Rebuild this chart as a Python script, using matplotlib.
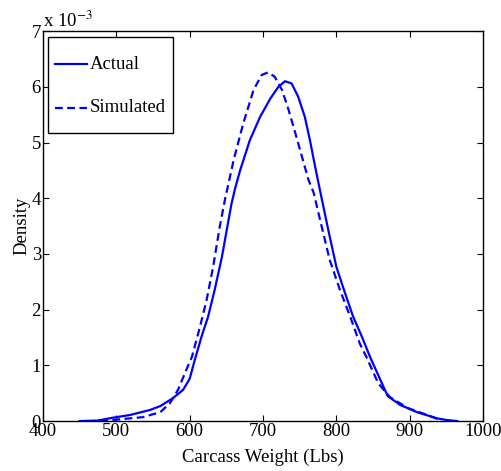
import matplotlib

matplotlib.use("Agg")
import matplotlib.pyplot as plt  # noqa: E402

# density values are in units of 1e-3
actual_x = [450, 475, 495, 519, 546, 560, 577, 591, 600, 607, 616, 625, 634,
            644, 653, 657, 662, 669, 682, 696, 710, 721, 730, 739, 748, 757,
            764, 771, 778, 789, 800, 812, 823, 835, 846, 860, 870, 887, 910,
            937, 950, 965]
actual_y = [0.0, 0.01, 0.06, 0.11, 0.20, 0.27, 0.41, 0.56, 0.76, 1.10, 1.51,
            1.87, 2.35, 2.95, 3.61, 3.90, 4.18, 4.51, 5.04, 5.46, 5.79, 6.00,
            6.10, 6.06, 5.82, 5.46, 5.04, 4.57, 4.12, 3.43, 2.77, 2.29, 1.87,
            1.51, 1.15, 0.74, 0.45, 0.29, 0.16, 0.05, 0.02, 0.0]

sim_x = [478, 495, 536, 560, 573, 584, 598, 603, 614, 623, 632, 641, 648,
         660, 673, 687, 698, 707, 716, 726, 735, 744, 753, 762, 769, 780,
         791, 805, 819, 832, 841, 857, 873, 898, 924, 941]
sim_y = [0.0, 0.02, 0.07, 0.16, 0.32, 0.56, 1.00, 1.15, 1.69, 2.17, 2.77,
         3.49, 3.97, 4.69, 5.34, 5.94, 6.21, 6.26, 6.18, 5.94, 5.58, 5.17,
         4.75, 4.33, 4.10, 3.49, 2.89, 2.35, 1.87, 1.39, 1.15, 0.68, 0.43,
         0.23, 0.11, 0.02]

x_ticks = [400, 500, 600, 700, 800, 900, 1000]
y_ticks = [0, 1, 2, 3, 4, 5, 6, 7]

plt.rcParams["font.family"] = ["Liberation Serif", "DejaVu Serif"]
plt.rcParams["mathtext.fontset"] = "stix"
FS = 13.5
DPI = 100

fig = plt.figure(figsize=(5.02, 4.71), dpi=DPI)
ax = fig.add_axes([0.0857, 0.106, 0.8765, 0.828])

ax.plot(actual_x, actual_y, color="#0000ff", lw=1.6, label="Actual")
ax.plot(sim_x, sim_y, color="#0000ff", lw=1.6, ls=(0, (3.5, 2)), label="Simulated")

ax.set_xlim(400, 1000)
ax.set_ylim(0, 7)
ax.set_xticks(x_ticks)
ax.set_yticks(y_ticks)
ax.tick_params(direction="in", top=True, right=True, length=4, width=0.8,
               labelsize=FS, pad=1.5)
for s in ax.spines.values():
    s.set_linewidth(1.0)

ax.set_xlabel("Carcass Weight (Lbs)", fontsize=FS, labelpad=6.5)
ax.set_ylabel("Density", fontsize=FS, labelpad=1)
ax.text(0.0, 1.0, r"x 10$^{-3}$", transform=ax.transAxes, fontsize=FS,
        ha="left", va="bottom")

leg = ax.legend(loc="upper left", bbox_to_anchor=(0.011, 0.985),
                borderaxespad=0, fancybox=False, framealpha=1,
                edgecolor="black", fontsize=FS, handlelength=1.7,
                handleheight=2.7, handletextpad=0.15, labelspacing=0.33,
                borderpad=0.39)
leg.get_frame().set_linewidth(1.0)

# tall handle boxes push the lines above the labels; line them up again
fig.canvas.draw()
for line, txt in zip(leg.get_lines(), leg.get_texts()):
    tb = txt.get_window_extent()
    lb = line.get_window_extent()
    dy = ((tb.y0 + tb.y1) / 2 - (lb.y0 + lb.y1) / 2) * 72 / DPI
    line.set_ydata([v + dy for v in line.get_ydata()])

fig.savefig("out.png", dpi=DPI)
